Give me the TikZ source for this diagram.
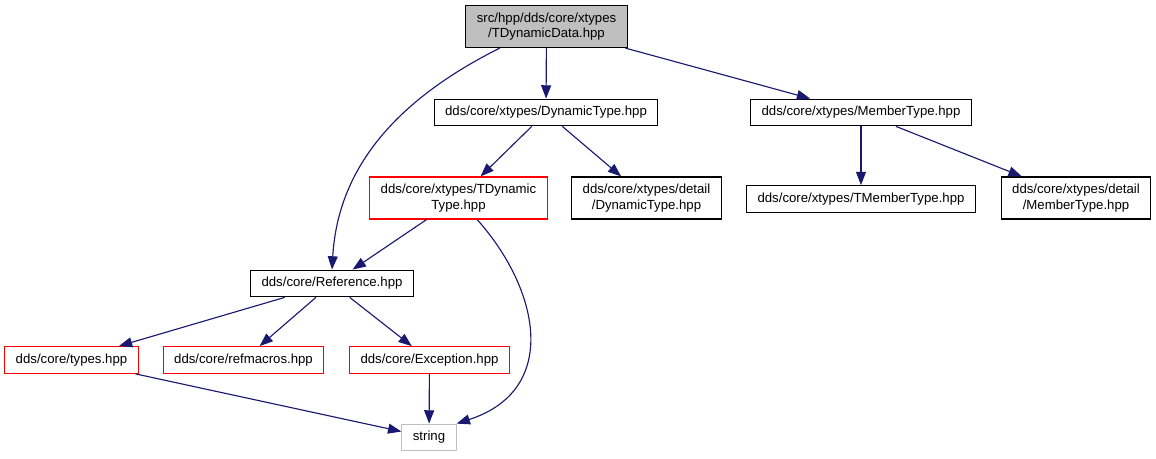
\documentclass[tikz,border=0pt]{standalone}
\usepackage{fontspec}
\setmainfont{Liberation Sans}
\usetikzlibrary{arrows.meta}
\definecolor{edgeblue}{HTML}{191970}
\definecolor{boxgray}{HTML}{BFBFBF}
\tikzstyle{file} = [rectangle, draw, line width=0.85pt, align=center, inner xsep=8.2pt, inner ysep=2pt, minimum height=20pt, font=\fontsize{9.9}{11.5}\selectfont]
\tikzstyle{twoline} = [file, minimum height=31.5pt]
\tikzstyle{cut} = [draw=red]
\tikzstyle{sys} = [draw=boxgray]
\tikzstyle{line} = [draw, edgeblue, line width=0.85pt, -{Triangle[length=10pt,width=7.5pt]}]

\begin{document}
\begin{tikzpicture}[x=0.75pt, y=-0.75pt]
\useasboundingbox (0,0) rectangle (1156,459);

% top file
\node [twoline, fill=boxgray] at (546.5, 26.5) (root) {src/hpp/dds/core/xtypes\\/TDynamicData.hpp};

% xtypes
\node [file] at (546, 112.5) (dyn) {dds/core/xtypes/DynamicType.hpp};
\node [file] at (861, 112.5) (mem) {dds/core/xtypes/MemberType.hpp};
\node [twoline, cut] at (458.5, 198) (tdyn) {dds/core/xtypes/TDynamic\\Type.hpp};
\node [twoline] at (646.5, 198) (ddyn) {dds/core/xtypes/detail\\/DynamicType.hpp};
\node [file] at (861, 199) (tmem) {dds/core/xtypes/TMemberType.hpp};
\node [twoline] at (1076, 198) (dmem) {dds/core/xtypes/detail\\/MemberType.hpp};

% core
\node [file] at (332, 283.5) (ref) {dds/core/Reference.hpp};
\node [file, cut] at (71.5, 360) (types) {dds/core/types.hpp};
\node [file, cut] at (243.5, 360) (refm) {dds/core/refmacros.hpp};
\node [file, cut] at (429.5, 360) (exc) {dds/core/Exception.hpp};
\node [file, sys] at (429, 437.5) (string) {string};

\path [line] ([xshift=-35pt]root.south) .. controls (400, 98) and (338, 165) .. (ref.north);
\path [line] (root) -- (dyn);
\path [line] (root) -- (mem);
\path [line] (dyn) -- (tdyn);
\path [line] (dyn) -- (ddyn);
\path [line] (mem) -- (tmem);
\path [line] (mem) -- (dmem);
\path [line] (tdyn) -- (ref);
\path [line] ([xshift=14pt]tdyn.south) .. controls (540, 290) and (560, 390) .. (string.north east);
\path [line] (ref) -- (types);
\path [line] (ref) -- (refm);
\path [line] (ref) -- (exc);
\path [line] (types) -- (string);
\path [line] (exc) -- (string);

\end{tikzpicture}
\end{document}
